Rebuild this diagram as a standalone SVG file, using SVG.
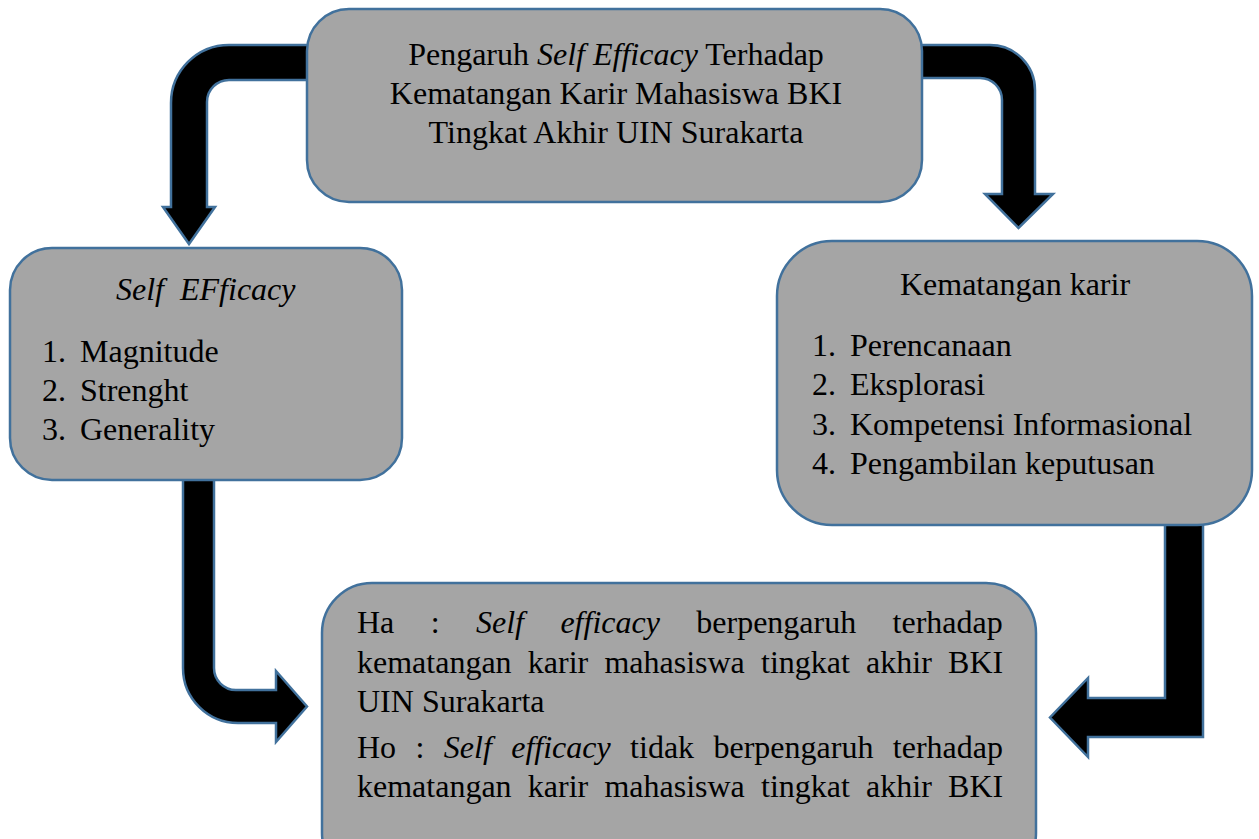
<svg xmlns="http://www.w3.org/2000/svg" width="1259" height="839" viewBox="0 0 1259 839">
<style>
.box{fill:#A5A5A5;stroke:#41719C;stroke-width:2.5}
.arrow{fill:#000;stroke:#41719C;stroke-width:2.5;stroke-linejoin:miter}
text{font-family:"Liberation Serif","Times New Roman",serif;font-size:32px;fill:#000}
.i{font-style:italic}
</style>
<rect width="1259" height="839" fill="#fff"/>
<g id="connectors">
<path class="arrow" d="M 312,45 L 229,45 A 58,58 0 0 0 171,103 L 171,207 L 163,207 L 189,244 L 215,207 L 207,207 L 207,102 A 22,22 0 0 1 229,80 L 312,80 Z"/>
<path class="arrow" d="M 918,45 L 990,45 A 45,45 0 0 1 1035,90 L 1035,194 L 1053,194 L 1018.5,228 L 985,194 L 1002,194 L 1002,100 A 22,22 0 0 0 980,78 L 918,78 Z"/>
<path class="arrow" d="M 183,476 L 183,668 A 55,55 0 0 0 238,723 L 276,723 L 276,742 L 307,706.5 L 276,671 L 276,690 L 236,690 A 22,22 0 0 1 214,668 L 214,476 Z"/>
<path class="arrow" d="M 1165,520 L 1203,520 L 1203,737 L 1088,737 L 1088,757 L 1050,717.5 L 1088,678 L 1088,698 L 1165,698 Z"/>
</g>
<g id="top">
<rect class="box" x="307" y="9" width="615" height="193" rx="42"/>
<text x="616" y="65" text-anchor="middle">Pengaruh <tspan class="i">Self Efficacy</tspan> Terhadap</text>
<text x="616" y="104" text-anchor="middle">Kematangan Karir Mahasiswa BKI</text>
<text x="616" y="143" text-anchor="middle">Tingkat Akhir UIN Surakarta</text>
</g>
<g id="self-efficacy">
<rect class="box" x="10" y="248" width="392" height="232" rx="42"/>
<text class="i" x="116" y="300">Self</text>
<text class="i" x="180" y="300">EFficacy</text>
<text x="42" y="362">1.</text><text x="80" y="362">Magnitude</text>
<text x="42" y="401">2.</text><text x="80" y="401">Strenght</text>
<text x="42" y="440">3.</text><text x="80" y="440">Generality</text>
</g>
<g id="kematangan">
<rect class="box" x="777" y="241" width="475" height="284" rx="55"/>
<text x="1015" y="295" text-anchor="middle">Kematangan karir</text>
<text x="812" y="356">1.</text><text x="850" y="356">Perencanaan</text>
<text x="812" y="395">2.</text><text x="850" y="395">Eksplorasi</text>
<text x="812" y="435">3.</text><text x="850" y="435">Kompetensi Informasional</text>
<text x="812" y="474">4.</text><text x="850" y="474">Pengambilan keputusan</text>
</g>
<g id="hipotesis">
<rect class="box" x="322" y="583" width="714" height="300" rx="50"/>
<text y="633"><tspan x="357">Ha</tspan><tspan x="430.7">:</tspan><tspan class="i" x="476">Self</tspan><tspan class="i" x="560.4">efficacy</tspan><tspan x="696.3">berpengaruh</tspan><tspan x="892.6">terhadap</tspan></text>
<text y="673"><tspan x="357">kematangan</tspan><tspan x="527.8">karir</tspan><tspan x="604.4">mahasiswa</tspan><tspan x="761">tingkat</tspan><tspan x="866.1">akhir</tspan><tspan x="948.1">BKI</tspan></text>
<text x="357" y="712">UIN Surakarta</text>
<text y="758"><tspan x="357">Ho</tspan><tspan x="415.5">:</tspan><tspan class="i" x="443.8">Self</tspan><tspan class="i" x="511.2">efficacy</tspan><tspan x="630.1">tidak</tspan><tspan x="713.5">berpengaruh</tspan><tspan x="892.8">terhadap</tspan></text>
<text y="797"><tspan x="357">kematangan</tspan><tspan x="527.8">karir</tspan><tspan x="604.4">mahasiswa</tspan><tspan x="761">tingkat</tspan><tspan x="866.1">akhir</tspan><tspan x="948.1">BKI</tspan></text>
</g>
</svg>
